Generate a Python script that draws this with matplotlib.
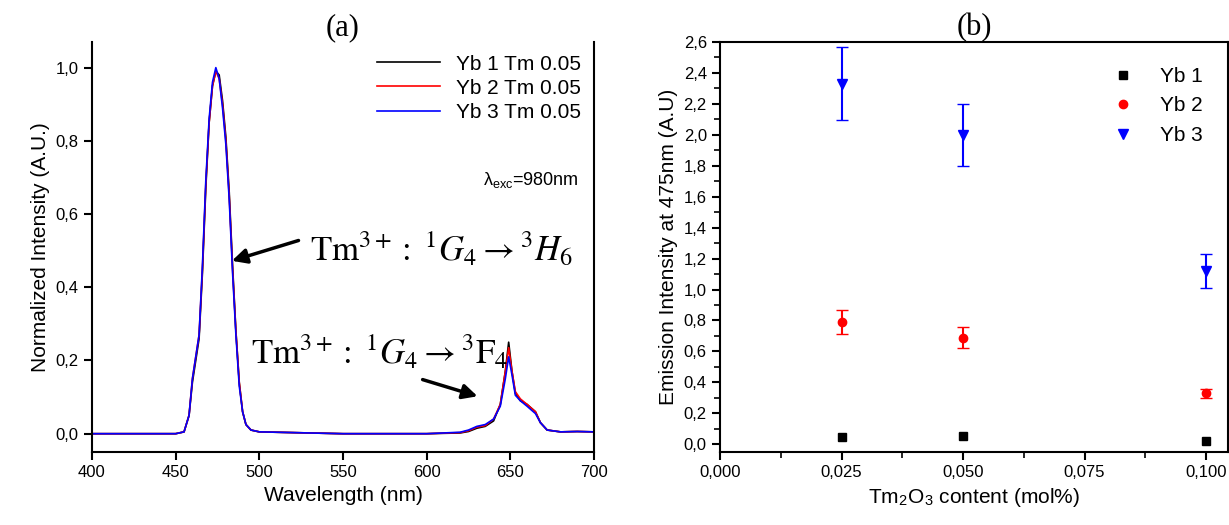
import matplotlib.pyplot as plt
import numpy as np

plt.rcParams['font.family'] = ['Liberation Sans', 'DejaVu Sans']
plt.rcParams['mathtext.fontset'] = 'stix'

wl = [400, 450, 455, 458, 460, 462, 464, 466, 468, 470, 472, 474, 476, 478, 480,
      482, 484, 486, 488, 490, 492, 495, 500, 550, 600, 620, 625, 630, 635, 640,
      644, 647, 649, 651, 653, 656, 660, 665, 668, 672, 680, 690, 700]
yb1 = [0, 0, 0.005, 0.05, 0.14, 0.2, 0.26, 0.44, 0.67, 0.85, 0.95, 0.99, 0.98, 0.91, 0.81,
       0.66, 0.46, 0.28, 0.14, 0.06, 0.025, 0.01, 0.005, 0.0, 0.0, 0.002, 0.006, 0.015, 0.02, 0.035,
       0.08, 0.17, 0.25, 0.17, 0.11, 0.09, 0.08, 0.06, 0.03, 0.01, 0.005, 0.006, 0.005]
yb2 = [0, 0, 0.005, 0.05, 0.15, 0.21, 0.27, 0.45, 0.68, 0.85, 0.95, 0.99, 0.97, 0.9, 0.8,
       0.65, 0.45, 0.28, 0.14, 0.06, 0.025, 0.01, 0.005, 0.0, 0.0, 0.003, 0.008, 0.018, 0.022, 0.04,
       0.08, 0.17, 0.235, 0.17, 0.115, 0.095, 0.08, 0.06, 0.03, 0.01, 0.005, 0.006, 0.005]
yb3 = [0, 0, 0.005, 0.05, 0.15, 0.21, 0.27, 0.46, 0.69, 0.86, 0.96, 1.0, 0.97, 0.89, 0.79,
       0.64, 0.44, 0.27, 0.13, 0.06, 0.025, 0.01, 0.005, 0.0, 0.0, 0.004, 0.01, 0.02, 0.025, 0.04,
       0.075, 0.15, 0.21, 0.16, 0.105, 0.09, 0.075, 0.055, 0.03, 0.01, 0.005, 0.006, 0.005]

tm = [0.025, 0.05, 0.1]
em1 = [0.045, 0.055, 0.02]
em2 = [0.79, 0.69, 0.33]
err2 = [0.08, 0.07, 0.03]
em3 = [2.33, 2.0, 1.12]
err3 = [0.235, 0.2, 0.11]

fig = plt.figure(figsize=(12.29, 5.25), dpi=100)
ax1 = fig.add_axes([92/1229, 73/525, 502/1229, 410/525])
ax2 = fig.add_axes([720/1229, 73/525, 508/1229, 410/525])


def fmt(ax, nd):
    ax.yaxis.set_major_formatter(plt.FuncFormatter(lambda v, p: f"{v:.{nd}f}".replace(".", ",")))


ax1.plot(wl, yb1, "-k", lw=1.2, label="Yb 1 Tm 0.05")
ax1.plot(wl, yb2, "-r", lw=1.2, label="Yb 2 Tm 0.05")
ax1.plot(wl, yb3, "-b", lw=1.2, label="Yb 3 Tm 0.05")
ax1.set_xlim(400, 700)
ax1.set_ylim(-0.05, 1.07)
ax1.set_yticks([0, 0.2, 0.4, 0.6, 0.8, 1.0])
fmt(ax1, 1)
ax1.set_xlabel("Wavelength (nm)", fontsize=15)
ax1.set_ylabel("Normalized Intensity (A.U.)", fontsize=15)
ax1.set_title("(a)", fontsize=22, family="Liberation Serif", pad=4)
ax1.legend(loc="upper right", frameon=False, fontsize=15, handlelength=3,
           borderaxespad=0.2, labelspacing=0.25)
ax1.text(662, 0.68, r"$\mathregular{\lambda_{exc}}$=980nm", fontsize=13, ha="center")
ax1.text(530, 0.47, r"$\mathrm{Tm}^{3+}:\ {}^{1}G_{4}\rightarrow{}^{3}H_{6}$", fontsize=25)
ax1.text(495, 0.19, r"$\mathrm{Tm}^{3+}:\ {}^{1}G_{4}\rightarrow{}^{3}\mathrm{F}_{4}$", fontsize=25)
ax1.annotate("", xy=(482, 0.47), xytext=(525, 0.53),
             arrowprops=dict(arrowstyle="-|>", color="k", lw=2.5, mutation_scale=22))
ax1.annotate("", xy=(632, 0.1), xytext=(596, 0.15),
             arrowprops=dict(arrowstyle="-|>", color="k", lw=2.5, mutation_scale=22))

ax2.plot(tm, em1, "ks", ms=6, label="Yb 1")
ax2.errorbar(tm, em2, yerr=err2, fmt="none", ecolor="red", capsize=4)
ax2.plot(tm, em2, "o", color="red", ms=6, label="Yb 2")
ax2.errorbar(tm, em3, yerr=err3, fmt="none", ecolor="blue", capsize=4)
ax2.plot(tm, em3, "v", color="blue", ms=7, label="Yb 3")
ax2.set_xlim(0, 0.1045)
ax2.set_ylim(-0.05, 2.6)
ax2.set_xticks([0, 0.025, 0.05, 0.075, 0.1])
ax2.set_xticks(np.arange(0.0125, 0.1, 0.025), minor=True)
ax2.set_yticks(np.arange(0, 2.61, 0.2))
ax2.set_yticks(np.arange(0.1, 2.6, 0.2), minor=True)
ax2.xaxis.set_major_formatter(plt.FuncFormatter(lambda v, p: f"{v:.3f}".replace(".", ",")))
fmt(ax2, 1)
ax2.set_xlabel(r"Tm$_\mathregular{2}$O$_\mathregular{3}$ content (mol%)", fontsize=15)
ax2.set_ylabel("Emission Intensity at 475nm (A.U)", fontsize=15)
ax2.set_title("(b)", fontsize=22, family="Liberation Serif", pad=4)
ax2.legend(loc="upper right", frameon=False, fontsize=15, borderaxespad=0.8)

for ax in (ax1, ax2):
    ax.tick_params(labelsize=12, width=1.5, length=6)
    ax.tick_params(which="minor", width=1.2, length=4)
    for s in ax.spines.values():
        s.set_linewidth(1.5)
ax1.spines["top"].set_visible(False)

fig.savefig("out.png")
